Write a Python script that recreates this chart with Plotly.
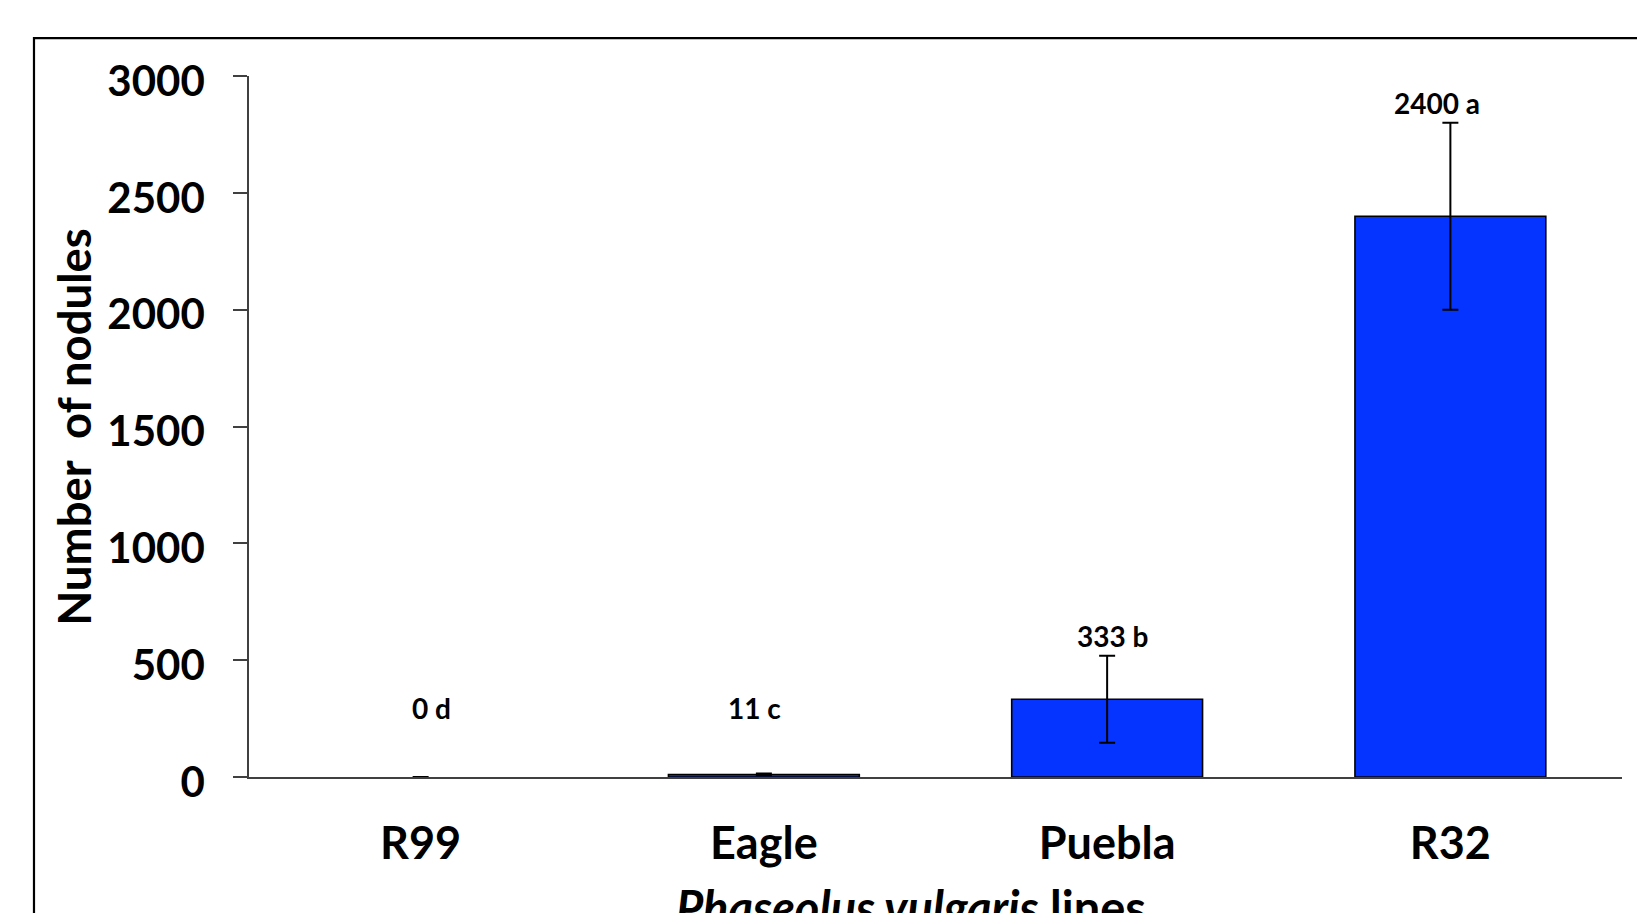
import plotly.graph_objects as go

# Nodule counts per bean line
lines = ["R99", "Eagle", "Puebla", "R32"]
nodules = [0, 11, 333, 2400]
nodule_err = [0, 4, 186, 400]
groups = ["d", "c", "b", "a"]
y_ticks = [0, 500, 1000, 1500, 2000, 2500, 3000]

FONT = "Lato"
BLUE = "#0533FF"
AXIS = "#404040"

fig = go.Figure()

# A zero-height bar gets no outline so it does not draw a line along the axis
outline_w = [1.6 if v > 0 else 0 for v in nodules]

fig.add_trace(go.Bar(
    x=lines,
    y=nodules,
    width=0.556,
    marker=dict(color=BLUE, line=dict(color="black", width=outline_w)),
    error_y=dict(type="data", array=nodule_err, visible=True,
                 color="black", thickness=2, width=8),
    showlegend=False,
))

# Mean value + significance letter above each bar
label_dx = [0.032, -0.026, 0.017, -0.038]
for i, (name, v, e, g) in enumerate(zip(lines, nodules, nodule_err, groups)):
    fig.add_annotation(
        x=i + label_dx[i], y=max(v + e, 210) + 85,
        xref="x", yref="y",
        text=f"{v} {g}", showarrow=False,
        font=dict(family=FONT, size=28, color="black", weight="bold"),
        xanchor="center", yanchor="middle",
    )

# Axis titles
fig.add_annotation(
    x=-0.128, y=0.5, xref="paper", yref="paper",
    text="Number\u00a0 of nodules", textangle=-90, showarrow=False,
    font=dict(family=FONT, size=45.5, color="black", weight="bold"),
    xanchor="center", yanchor="middle",
)
fig.add_annotation(
    x=0.482, y=-0.186, xref="paper", yref="paper",
    text="<i>Phaseolus vulgaris</i> lines", showarrow=False,
    font=dict(family=FONT, size=47, color="black", weight="bold"),
    xanchor="center", yanchor="middle",
)

# Outer frame around the chart
fig.add_shape(
    type="rect", xref="paper", yref="paper",
    x0=-0.1566, x1=1.05, y0=-0.3, y1=1.054,
    line=dict(color="black", width=2.2), fillcolor="rgba(0,0,0,0)",
    layer="below",
)

fig.update_layout(
    width=1637, height=913,
    margin=dict(l=249, r=15, t=76, b=136),
    paper_bgcolor="white", plot_bgcolor="white",
    bargap=0.444,
    font=dict(family=FONT, color="black"),
)

fig.update_xaxes(
    range=[-0.5, 3.5],
    showline=True, linecolor=AXIS, linewidth=2,
    ticks="", showgrid=False, zeroline=False,
    tickfont=dict(family=FONT, size=45, color="black", weight="bold"),
    ticklabelstandoff=26,
)
fig.update_yaxes(
    range=[0, 3000],
    tickvals=y_ticks,
    showline=True, linecolor=AXIS, linewidth=1.6,
    ticks="outside", ticklen=14, tickwidth=1.6, tickcolor=AXIS,
    showgrid=False, zeroline=False,
    tickfont=dict(family=FONT, size=42, color="black", weight="bold"),
    ticklabelstandoff=20,
    ticklabelshift=5,
)

fig.write_html("out.html")
